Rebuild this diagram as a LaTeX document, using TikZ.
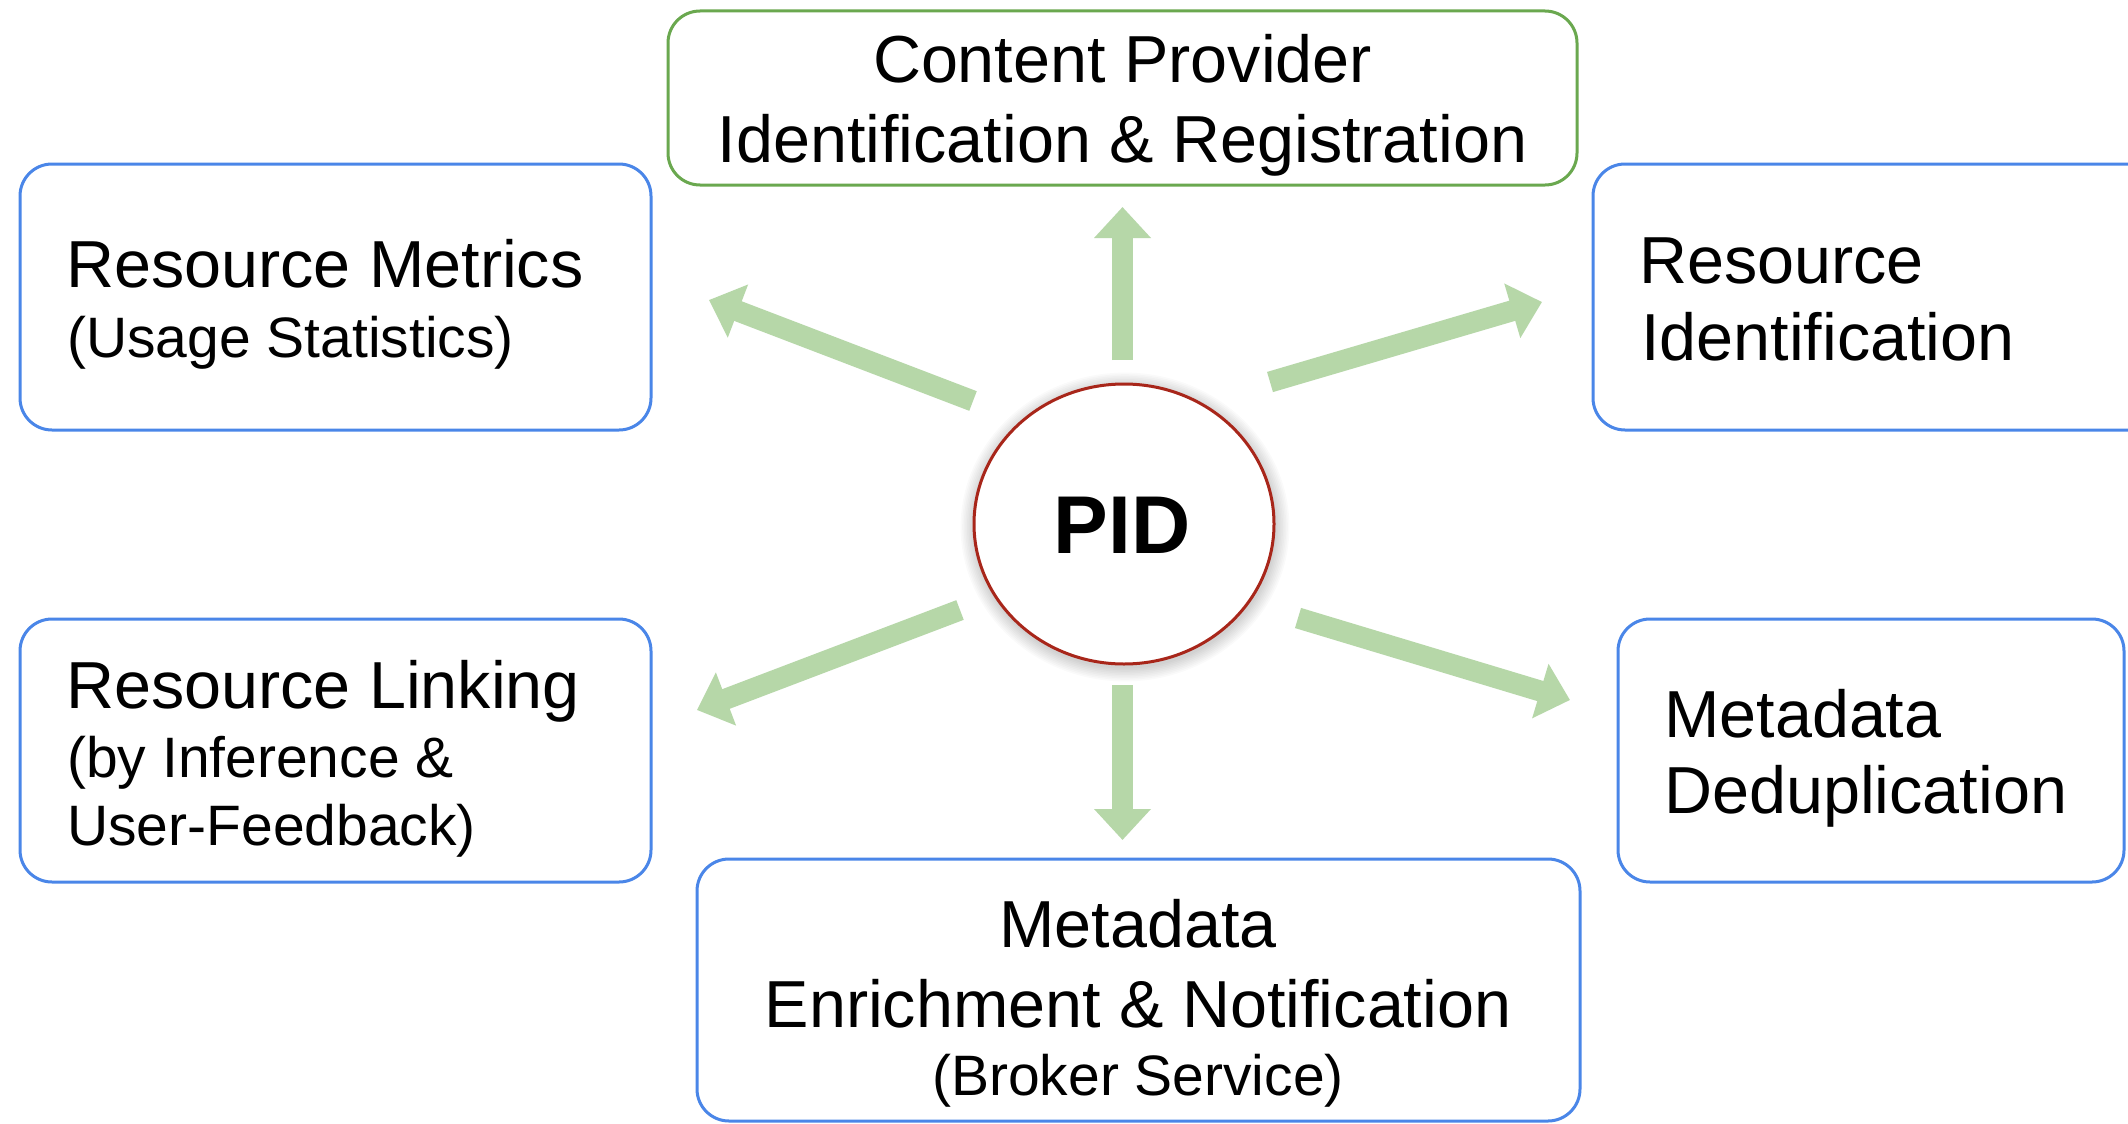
\documentclass[tikz,border=0pt]{standalone}
\usepackage{fontspec}
\setmainfont{Liberation Sans}
\usetikzlibrary{arrows.meta,shapes.geometric}
\definecolor{boxblue}{HTML}{4A86E8}
\definecolor{boxgreen}{HTML}{6AA84F}
\definecolor{arrgreen}{HTML}{B6D7A8}
\definecolor{pidred}{HTML}{A8261A}
\tikzset{
  box/.style={draw=boxblue, line width=3pt, rounded corners=32pt, fill=white},
  gbox/.style={box, draw=boxgreen},
  bigtxt/.style={inner sep=0pt, font=\fontsize{66.5}{77}\selectfont},
  smalltxt/.style={inner sep=0pt, font=\fontsize{57}{66}\selectfont},
  fatarrow/.style={draw=arrgreen, line width=21pt,
    -{Triangle[width=55pt,length=31pt,fill=arrgreen]}},
}
\begin{document}
\begin{tikzpicture}[x=1pt,y=-1pt]
\useasboundingbox (0,0) rectangle (2128,1124);
\clip (0,0) rectangle (2128,1124);
\fill[white] (0,0) rectangle (2128,1124);

% boxes
\draw[gbox] (668,11) rectangle (1577,185);
\node[inner sep=0pt] (cp) at (1122.5,98) {};
\draw[box] (20,164) rectangle (651,430);
\node[inner sep=0pt] (rm) at (335,297) {};
\draw[box] (1593,164) rectangle (2170,430);
\node[inner sep=0pt] (ri) at (1880,297) {};
\draw[box] (20,619) rectangle (651,882);
\node[inner sep=0pt] (rl) at (335,750) {};
\draw[box] (1618,619) rectangle (2124,882);
\node[inner sep=0pt] (md) at (1871,750) {};
\draw[box] (697,859) rectangle (1580,1121);
\node[inner sep=0pt] (me) at (1138,990) {};

% texts
\node[bigtxt, anchor=base] (cpa) at (1122.5,82) {Content Provider};
\node[bigtxt, anchor=base] (cpb) at (1122.5,162) {Identification \& Registration};

\node[bigtxt, anchor=base west] (rma) at (66,287) {Resource Metrics};
\node[smalltxt, anchor=base west] (rmb) at (67,357) {(Usage Statistics)};

\node[bigtxt, anchor=base west] (ria) at (1639,283) {Resource};
\node[bigtxt, anchor=base west] (rib) at (1641,360) {Identification};

\node[bigtxt, anchor=base west] (rla) at (66,708) {Resource Linking};
\node[smalltxt, anchor=base west] (rlb) at (67,777) {(by Inference \&};
\node[smalltxt, anchor=base west] (rlc) at (67,845) {User-Feedback)};

\node[bigtxt, anchor=base west] (mda) at (1664,737) {Metadata};
\node[bigtxt, anchor=base west] (mdb) at (1664,813) {Deduplication};

\node[bigtxt, anchor=base] (mea) at (1138,947) {Metadata};
\node[bigtxt, anchor=base] (meb) at (1138,1027) {Enrichment \& Notification};
\node[smalltxt, anchor=base] (mec) at (1138,1095) {(Broker Service)};

% PID circle with soft shadow
\foreach \k in {1,...,9}{
  \fill[black, opacity=0.018] (1125,527) ellipse ({150+1.6*\k} and {140+1.6*\k});
}
\node[draw=pidred, line width=3pt, fill=white, ellipse, minimum width=300pt,
      minimum height=280pt, inner sep=0pt] (pid) at (1124,524) {};
\node[inner sep=0pt, anchor=base, font=\fontsize{82}{90}\selectfont\bfseries]
  (pidt) at (1122,553) {PID};

% arrow end points
\coordinate (upS) at (1122.5,360);  \coordinate (upE) at (1122.5,207);
\coordinate (dnS) at (1122.5,685);  \coordinate (dnE) at (1122.5,840);
\coordinate (ulS) at (973,401);     \coordinate (ulE) at (709,300);
\coordinate (urS) at (1270,382);    \coordinate (urE) at (1542,302);
\coordinate (llS) at (960,610);     \coordinate (llE) at (697,710);
\coordinate (lrS) at (1298,618);    \coordinate (lrE) at (1570,700);

\draw[fatarrow] (upS) -- (upE);
\draw[fatarrow] (dnS) -- (dnE);
\draw[fatarrow] (ulS) -- (ulE);
\draw[fatarrow] (urS) -- (urE);
\draw[fatarrow] (llS) -- (llE);
\draw[fatarrow] (lrS) -- (lrE);
\end{tikzpicture}
\end{document}
